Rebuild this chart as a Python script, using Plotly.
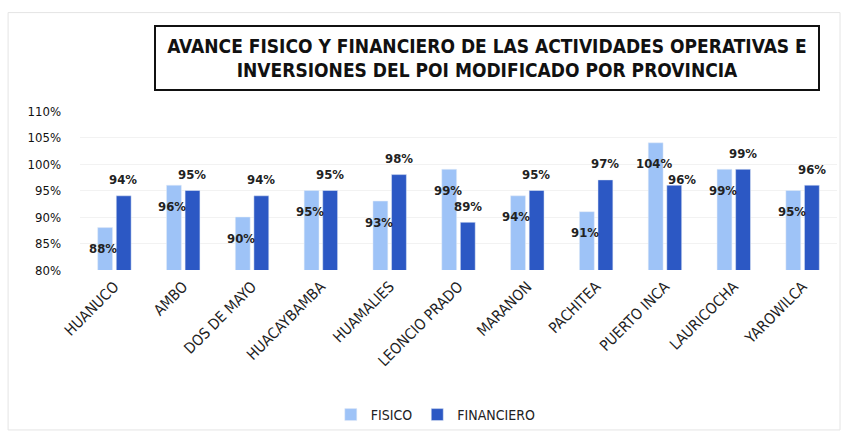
import plotly.graph_objects as go

provincias = ["HUANUCO", "AMBO", "DOS DE MAYO", "HUACAYBAMBA", "HUAMALIES",
              "LEONCIO PRADO", "MARANON", "PACHITEA", "PUERTO INCA",
              "LAURICOCHA", "YAROWILCA"]
fisico = [88, 96, 90, 95, 93, 99, 94, 91, 104, 99, 95]
financiero = [94, 95, 94, 95, 98, 89, 95, 97, 96, 99, 96]
y_ticks = [80, 85, 90, 95, 100, 105, 110]
titulo = "AVANCE FISICO Y FINANCIERO DE LAS ACTIVIDADES OPERATIVAS E<br>INVERSIONES DEL POI MODIFICADO POR PROVINCIA"

# label nudges (style only): category -> (xshift, yshift) for the FINANCIERO label
fin_label_nudge = {"PUERTO INCA": (17, 6)}

FONT = "DejaVu Sans Condensed, Liberation Sans Narrow, DejaVu Sans, sans-serif"
C_FIS = "#9EC3F7"
C_FIN = "#2C58C4"

fig = go.Figure()
fig.add_trace(go.Bar(name="FISICO", x=provincias, y=fisico, marker_color=C_FIS))
fig.add_trace(go.Bar(name="FINANCIERO", x=provincias, y=financiero, marker_color=C_FIN))

ann = []
for p, v in zip(provincias, fisico):
    ann.append(dict(x=p, y=v, xref="x", yref="y", text=f"<b>{v}%</b>", showarrow=False,
                    xshift=-11, yshift=-21,
                    font=dict(family=FONT, size=13, color="#222")))
for p, v in zip(provincias, financiero):
    xs, ys = fin_label_nudge.get(p, (9, 16))
    ann.append(dict(x=p, y=v, xref="x", yref="y", text=f"<b>{v}%</b>", showarrow=False,
                    xshift=xs, yshift=ys,
                    font=dict(family=FONT, size=13, color="#222")))
ann.append(dict(x=0.538, y=1.331, xref="paper", yref="paper", text="<b>" + titulo + "</b>",
                showarrow=False, xanchor="center", yanchor="middle",
                width=660, height=60, borderwidth=2, bordercolor="#111", borderpad=1,
                align="center",
                font=dict(family=FONT, size=19, color="#111")))

fig.update_layout(
    width=844, height=437,
    margin=dict(l=80, r=7, t=111, b=166),
    paper_bgcolor="white", plot_bgcolor="white",
    barmode="group", bargap=0.46, bargroupgap=0.2,
    annotations=ann,
    showlegend=True,
    legend=dict(orientation="h", x=0.47, xanchor="center", y=-0.9, yanchor="middle",
                font=dict(family=FONT, size=14, color="#222"), itemwidth=30,
                tracegroupgap=0, bgcolor="rgba(0,0,0,0)"),
    shapes=[dict(type="rect", xref="paper", yref="paper", x0=-0.095, x1=1.004,
                 y0=-1.006, y1=1.619, line=dict(color="#e4e4e4", width=1))],
)
fig.update_yaxes(range=[80, 110], tickvals=y_ticks, ticktext=[f"{t}%" for t in y_ticks],
                 showgrid=True, gridcolor="#f2f2f2", zeroline=False, showline=False,
                 ticklabelstandoff=18,
                 tickfont=dict(family=FONT, size=13, color="#111"))
fig.update_xaxes(tickangle=-45, showgrid=False, showline=False, ticks="",
                 ticklabelstandoff=4,
                 tickfont=dict(family=FONT, size=15, color="#222"))

fig.write_html("out.html", config={"displayModeBar": False},
               post_script="document.body.style.margin='0';document.body.style.padding='0';")
